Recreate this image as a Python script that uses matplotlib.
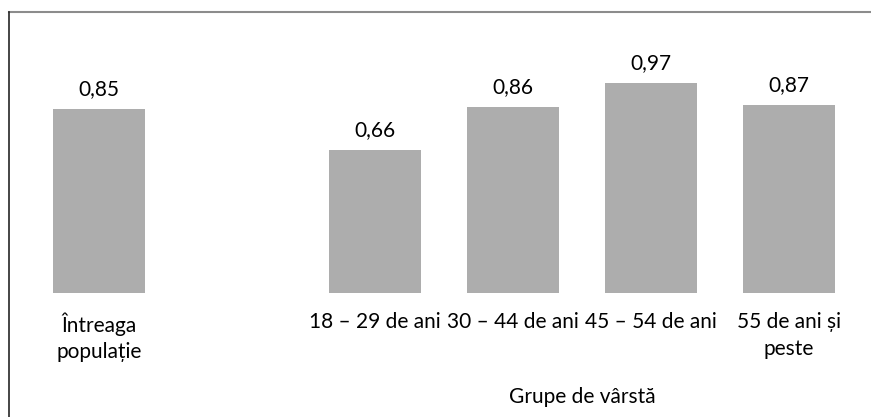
import matplotlib
matplotlib.use("Agg")
import matplotlib.pyplot as plt
from matplotlib.lines import Line2D

plt.rcParams['font.family'] = ['Lato', 'DejaVu Sans']

categories = ["Întreaga\npopulație", "", "18 – 29 de ani", "30 – 44 de ani",
              "45 – 54 de ani", "55 de ani și\npeste"]
values = [0.85, None, 0.66, 0.86, 0.97, 0.87]
value_labels = ["0,85", "", "0,66", "0,86", "0,97", "0,87"]
group_label = "Grupe de vârstă"

W, H = 871, 417
fig = plt.figure(figsize=(W / 100, H / 100), dpi=100)
ax = fig.add_axes([30 / W, 1 - 293 / H, (858 - 30) / W, (293 - 33) / H])

xs = [i for i, v in enumerate(values) if v is not None]
vs = [v for v in values if v is not None]
labs = [value_labels[i] for i in xs]
bars = ax.bar(xs, vs, width=0.667, color="#adadad")
for x, v, l in zip(xs, vs, labs):
    ax.annotate(l, (x, v), xytext=(0, 7), textcoords="offset points",
                ha="center", va="bottom", fontsize=15, color="black")

ax.set_xlim(-0.5, 5.5)
ax.set_ylim(0, 0.85 * 260 / 184)
ax.set_xticks(range(len(categories)))
ax.set_xticklabels(categories, fontsize=15, linespacing=1.4)
ax.tick_params(axis="x", length=0, pad=14)
ax.set_yticks([])
for s in ax.spines.values():
    s.set_visible(False)

ax.text(3.5, -0.48, group_label, transform=ax.transData, ha="center",
        va="center", fontsize=15, color="black")

fig.add_artist(Line2D([8.5 / W, 1], [1 - 11.5 / H, 1 - 11.5 / H],
                      color="#8c8c8c", lw=1.5, transform=fig.transFigure))
fig.add_artist(Line2D([8.5 / W, 8.5 / W], [0, 1 - 11.5 / H],
                      color="#262626", lw=1.2, transform=fig.transFigure))

fig.savefig("out.png", dpi=100)
